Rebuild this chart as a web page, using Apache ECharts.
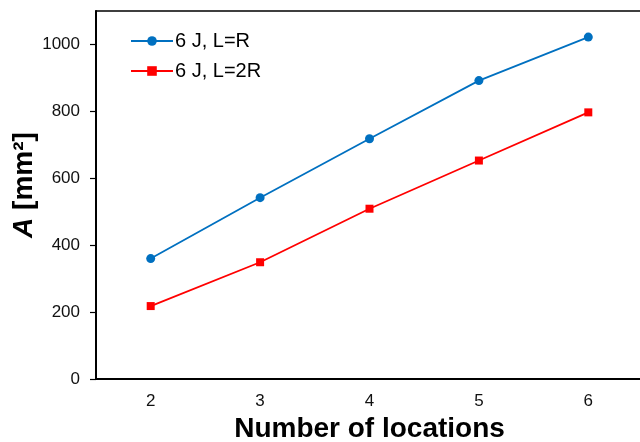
<!DOCTYPE html>
<html><head><meta charset="utf-8">
<script src="https://cdn.jsdelivr.net/npm/echarts@6/dist/echarts.min.js"></script>
<style>html,body{margin:0;padding:0;background:#fff}#c{width:640px;height:442px}</style>
</head><body><div id="c"></div>
<script>
const categories = ['2','3','4','5','6'];
const seriesNames = ['6 J, L=R', '6 J, L=2R'];
const valuesLR = [360, 542, 718, 892, 1022];
const valuesL2R = [218, 349, 509, 653, 797];
const yTicks = [0, 200, 400, 600, 800, 1000];

const chart = echarts.init(document.getElementById('c'));
const font = '"Liberation Sans", Arial, sans-serif';
chart.setOption({
  animation: false,
  backgroundColor: '#fff',
  grid: { left: 96, top: 11, right: -3, bottom: 63, outerBoundsMode: 'none', containLabel: false },
  legend: {
    left: 125, top: 26, orient: 'vertical', itemWidth: 42, itemHeight: 12, itemGap: 10,
    textStyle: { fontFamily: font, fontSize: 20, color: '#000', padding: [0,0,0,-3] },
    data: seriesNames
  },
  xAxis: [{
    type: 'category', data: categories, boundaryGap: true,
    axisLine: { lineStyle: { color: '#000', width: 2 } },
    axisTick: { alignWithLabel: true, length: 5, lineStyle: { color: '#000', width: 1.2 } },
    axisLabel: { fontFamily: font, fontSize: 17, color: '#111', margin: 14 },
    name: 'Number of locations', nameLocation: 'middle', nameGap: 35,
    nameTextStyle: { fontFamily: font, fontSize: 28, fontWeight: 'bold', color: '#000' }
  }, {
    type: 'category', data: categories, position: 'top', boundaryGap: true,
    axisLine: { lineStyle: { color: '#000', width: 1.5 } },
    axisTick: { show: false }, axisLabel: { show: false }
  }],
  yAxis: {
    type: 'value', min: 0, max: 1100, interval: 100,
    splitLine: { show: false },
    axisLine: { show: true, lineStyle: { color: '#000', width: 2 } },
    axisTick: { show: true, length: 6, customValues: yTicks, lineStyle: { color: '#000', width: 1.2 } },
    axisLabel: { fontFamily: font, fontSize: 17, color: '#111', margin: 16, customValues: yTicks,
      formatter: v => String(v) },
    name: '{i|A} [mm²]', nameLocation: 'middle', nameGap: 58, nameRotate: 90, nameMoveOverlap: false,
    nameTextStyle: { fontFamily: font, fontSize: 28, fontWeight: 'bold', color: '#000', padding: [0, 0, 0, 20],
      rich: { i: { fontFamily: font, fontSize: 28, fontWeight: 'bold', fontStyle: 'italic', color: '#000' } } }
  },
  series: [
    { name: seriesNames[0], type: 'line', data: valuesLR, symbol: 'circle', symbolSize: 9,
      itemStyle: { color: '#0070C0' }, lineStyle: { color: '#0070C0', width: 1.8 } },
    { name: seriesNames[1], type: 'line', data: valuesL2R, symbol: 'rect', symbolSize: 8,
      itemStyle: { color: '#FF0000' }, lineStyle: { color: '#FF0000', width: 1.8 } }
  ]
});
</script></body></html>
